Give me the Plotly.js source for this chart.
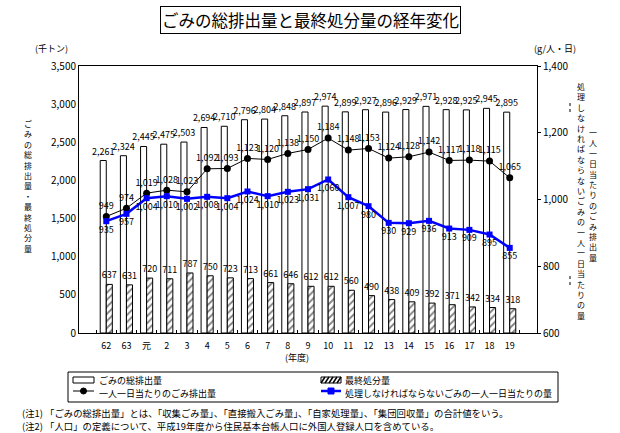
<!DOCTYPE html>
<html><head><meta charset="utf-8">
<script src="https://cdn.plot.ly/plotly-3.0.1.min.js"></script>
<style>body{margin:0;background:#fff}#c{width:620px;height:433px}</style>
</head><body><div id="c"></div>
<script>
var years = ['62','63','元','2','3','4','5','6','7','8','9','10','11','12','13','14','15','16','17','18','19'];
var totalWaste = [2261,2324,2445,2475,2503,2694,2710,2796,2804,2848,2897,2974,2899,2927,2896,2929,2971,2928,2925,2945,2895];
var finalDisposal = [637,631,720,711,787,750,723,713,661,646,612,612,560,490,438,409,392,371,342,334,318];
var perCapita = [949,974,1019,1028,1023,1092,1093,1123,1120,1138,1150,1184,1148,1153,1124,1128,1142,1117,1118,1115,1065];
var perCapitaTreat = [935,957,1004,1010,1002,1008,1004,1024,1010,1023,1031,1060,1007,980,930,929,936,913,909,895,855];
var seriesNames = ['ごみの総排出量','最終処分量','一人一日当たりのごみ排出量','処理しなければならないごみの一人一日当たりの量'];

var F = '"Noto Sans CJK JP", "Noto Sans", sans-serif';
function vert(s){ return s.split('').join('<br>'); }
function fmt(v){ return v.toLocaleString('en-US'); }
// plot area: left 79, right 537, top 66, bottom 333 (pixels)
function px(x){ return (x-79)/458; }
function py(y){ return (333-y)/267; }
function ann(text, x, y, size, extra){
  var a = {text:text, xref:'paper', yref:'paper', x:px(x), y:py(y), xanchor:'center', yanchor:'middle',
           showarrow:false, font:{family:F, size:size, color:'#000'}};
  if(extra){ for(var k in extra){ a[k] = extra[k]; } }
  return a;
}

var traces = [
  {type:'bar', name:seriesNames[0], x:years, y:totalWaste,
   marker:{color:'#fff', line:{color:'#000', width:1}},
   text:totalWaste.map(fmt), textposition:'outside',
   textangle:0, constraintext:'none', cliponaxis:false,
   textfont:{family:F, size:9, color:'#000'}, hoverinfo:'skip'},
  {type:'bar', name:seriesNames[1], x:years, y:finalDisposal,
   marker:{color:'#fff', line:{color:'#000', width:1},
     pattern:{shape:'/', fgcolor:'#000', bgcolor:'#fff', size:5, solidity:0.35, fillmode:'overlay'}},
   text:finalDisposal.map(String), textposition:'outside',
   textangle:0, constraintext:'none', cliponaxis:false,
   textfont:{family:F, size:9, color:'#000'}, hoverinfo:'skip'},
  {type:'scatter', mode:'lines+markers+text', name:seriesNames[2], x:years, y:perCapita, yaxis:'y2',
   line:{color:'#000', width:1}, marker:{symbol:'circle', size:7, color:'#000'},
   text:perCapita.map(fmt), textposition:'top center',
   textfont:{family:F, size:9, color:'#000'}, cliponaxis:false, hoverinfo:'skip'},
  {type:'scatter', mode:'lines+markers+text', name:seriesNames[3], x:years, y:perCapitaTreat, yaxis:'y2',
   line:{color:'#0000ff', width:2.5}, marker:{symbol:'square', size:6, color:'#0000ff'},
   text:perCapitaTreat.map(fmt), textposition:'bottom center',
   textfont:{family:F, size:9, color:'#000'}, cliponaxis:false, hoverinfo:'skip'}
];

var shapes = [
  {type:'line', xref:'paper', yref:'paper', x0:px(570), x1:px(570), y0:py(103), y1:py(113), line:{color:'#000', width:1, dash:'dot'}},
  {type:'line', xref:'paper', yref:'paper', x0:px(570), x1:px(570), y0:py(276), y1:py(285), line:{color:'#000', width:1, dash:'dot'}},
  // legend box
  {type:'rect', xref:'paper', yref:'paper', x0:px(68), x1:px(558), y0:py(372), y1:py(402), line:{color:'#000', width:1}, fillcolor:'#fff', layer:'above'},
  // white bar symbol
  {type:'rect', xref:'paper', yref:'paper', x0:px(73), x1:px(94), y0:py(377), y1:py(383), line:{color:'#000', width:1}, fillcolor:'#fff', layer:'above'},
  // hatched bar symbol
  {type:'rect', xref:'paper', yref:'paper', x0:px(321), x1:px(341), y0:py(377), y1:py(383), line:{color:'#000', width:1}, fillcolor:'#fff', layer:'above'},
  // black line symbol
  {type:'line', xref:'paper', yref:'paper', x0:px(73), x1:px(94), y0:py(391), y1:py(391), line:{color:'#000', width:1}, layer:'above'},
  {type:'circle', xref:'paper', yref:'paper', x0:px(80.5), x1:px(86.5), y0:py(388), y1:py(394), line:{color:'#000', width:1}, fillcolor:'#000', layer:'above'},
  // blue line symbol
  {type:'line', xref:'paper', yref:'paper', x0:px(321), x1:px(341), y0:py(391), y1:py(391), line:{color:'#0000ff', width:2.5}, layer:'above'},
  {type:'rect', xref:'paper', yref:'paper', x0:px(328), x1:px(334), y0:py(388), y1:py(394), line:{color:'#0000ff', width:1}, fillcolor:'#0000ff', layer:'above'}
];
[322,326,330,334,338].forEach(function(x){
  shapes.push({type:'line', xref:'paper', yref:'paper', x0:px(x-1), x1:px(x+3), y0:py(383), y1:py(377), line:{color:'#000', width:1.5}, layer:'above'});
});

var layout = {
  width:620, height:433,
  margin:{l:79, r:83, t:66, b:100, autoexpand:false},
  paper_bgcolor:'#fff', plot_bgcolor:'#fff',
  font:{family:F, size:10, color:'#000'},
  barmode:'group', bargap:0.4, bargroupgap:0,
  showlegend:false,
  xaxis:{type:'category', showline:true, linecolor:'#000', linewidth:1, mirror:true,
    ticks:'inside', tickson:'boundaries', ticklen:3, tickcolor:'#000', ticklabelstandoff:4,
    tickfont:{family:F, size:9}, showgrid:false, zeroline:false, fixedrange:true, automargin:false},
  yaxis:{range:[0,3500], dtick:500, tickformat:',', showline:true, linecolor:'#000', linewidth:1,
    ticks:'', showgrid:false, zeroline:false, tickfont:{family:F, size:10}, automargin:false},
  yaxis2:{range:[600,1400], dtick:200, tickformat:',', overlaying:'y', side:'right',
    showline:true, linecolor:'#000', linewidth:1, ticks:'outside', ticklen:3, tickcolor:'#000',
    showgrid:false, zeroline:false, tickfont:{family:F, size:10}, automargin:false},
  shapes:shapes,
  annotations:[
    ann('ごみの総排出量と最終処分量の経年変化', 310, 20, 16.5, {bordercolor:'#000', borderwidth:1, borderpad:1, bgcolor:'#fff'}),
    ann('(千トン)', 51, 48, 9),
    ann('(g/人・日)', 555, 48, 9),
    ann(vert('ごみの総排出量・最終処分量'), 28, 186, 8),
    ann(vert('処理しなければならないごみの一人一日当たりの量'), 581, 201, 8),
    ann(vert('一人一日当たりのごみ排出量'), 593, 195, 8),
    ann('(年度)', 297, 357, 9),
    ann(seriesNames[0], 97, 380, 9, {xanchor:'left'}),
    ann(seriesNames[1], 343, 380, 9, {xanchor:'left'}),
    ann(seriesNames[2], 97, 393, 9, {xanchor:'left'}),
    ann(seriesNames[3], 343, 393, 9, {xanchor:'left'}),
    ann('(注1) 「ごみの総排出量」とは、「収集ごみ量」、「直接搬入ごみ量」、「自家処理量」、「集団回収量」の合計値をいう。', 20, 413, 9.4, {xanchor:'left'}),
    ann('(注2) 「人口」の定義について、平成19年度から住民基本台帳人口に外国人登録人口を含めている。', 20, 426, 9.4, {xanchor:'left'})
  ]
};

Plotly.newPlot('c', traces, layout, {staticPlot:true, displayModeBar:false});
</script></body></html>
